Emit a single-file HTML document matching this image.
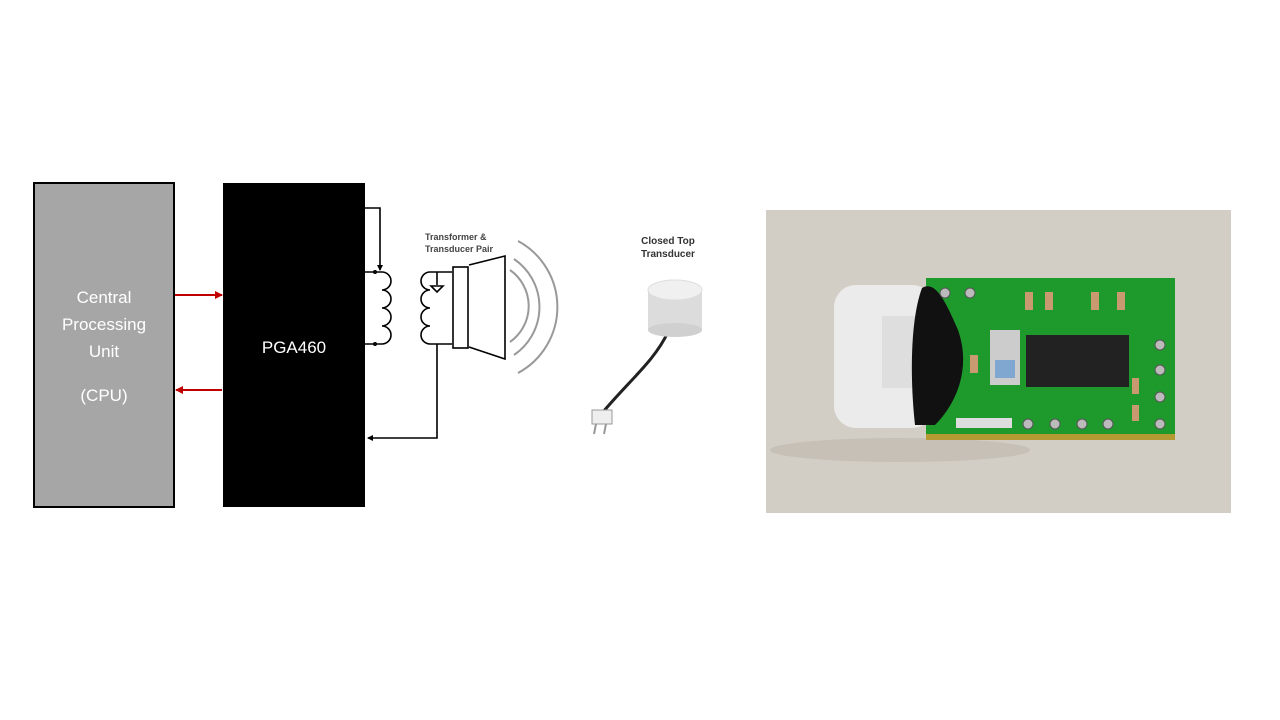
<!DOCTYPE html>
<html><head><style>html,body{margin:0;padding:0;background:#fff;}svg{display:block}</style></head><body>
<svg width="1280" height="720" viewBox="0 0 1280 720" xmlns="http://www.w3.org/2000/svg" font-family="Liberation Sans, sans-serif">
<defs>
<marker id="ra" markerWidth="8" markerHeight="8" refX="7" refY="4" orient="auto" markerUnits="userSpaceOnUse"><path d="M0,0 L8,4 L0,8z" fill="#c00000"/></marker>
<marker id="ba" markerWidth="6" markerHeight="6" refX="5" refY="3" orient="auto" markerUnits="userSpaceOnUse"><path d="M0,0 L6,3 L0,6z" fill="#000"/></marker>
</defs>
<rect x="34" y="183" width="140" height="324" fill="#a6a6a6" stroke="#000" stroke-width="2"/>
<text x="104" y="303" font-size="17" fill="#fff" text-anchor="middle">Central</text>
<text x="104" y="330" font-size="17" fill="#fff" text-anchor="middle">Processing</text>
<text x="104" y="357" font-size="17" fill="#fff" text-anchor="middle">Unit</text>
<text x="104" y="401" font-size="17" fill="#fff" text-anchor="middle">(CPU)</text>
<rect x="223" y="183" width="142" height="324" fill="#000"/>
<text x="294" y="353" font-size="17" fill="#fff" text-anchor="middle">PGA460</text>
<line x1="175" y1="295" x2="222" y2="295" stroke="#c00000" stroke-width="2" marker-end="url(#ra)"/>
<line x1="222" y1="390" x2="176" y2="390" stroke="#c00000" stroke-width="2" marker-end="url(#ra)"/>
<g stroke="#000" stroke-width="1.6" fill="none">
<polyline points="365,208 380,208 380,270" marker-end="url(#ba)"/>
<line x1="365" y1="272" x2="382" y2="272"/>
<line x1="365" y1="344" x2="382" y2="344"/>
<path d="M382,272 a9,9 0 0 1 0,18 a9,9 0 0 1 0,18 a9,9 0 0 1 0,18 a9,9 0 0 1 0,18"/>
<path d="M430,272 a9,9 0 0 0 0,18 a9,9 0 0 0 0,18 a9,9 0 0 0 0,18 a9,9 0 0 0 0,18"/>
<line x1="430" y1="272" x2="452" y2="272"/>
<line x1="430" y1="344" x2="452" y2="344"/>
<line x1="437" y1="272" x2="437" y2="285"/>
<path d="M431,286 L443,286 L437,292z"/>
<polyline points="437,344 437,438 368,438" marker-end="url(#ba)"/>
<rect x="453" y="267" width="15" height="81"/>
<path d="M469,265 L505,256 L505,359 L469,347"/>
</g>
<circle cx="375" cy="272" r="2" fill="#000"/><circle cx="375" cy="344" r="2" fill="#000"/>
<g stroke="#999" stroke-width="2" fill="none">
<path d="M510,270 A44,44 0 0 1 510,342"/>
<path d="M514,259 A58,58 0 0 1 514,355"/>
<path d="M518,241 A75,75 0 0 1 518,373"/>
</g>
<text x="425" y="240" font-size="9" font-weight="bold" fill="#444">Transformer &amp;</text>
<text x="425" y="252" font-size="9" font-weight="bold" fill="#444">Transducer Pair</text>
<text x="668" y="244" font-size="10" font-weight="bold" fill="#333" text-anchor="middle">Closed Top</text>
<text x="668" y="257" font-size="10" font-weight="bold" fill="#333" text-anchor="middle">Transducer</text>
<path d="M668,332 C655,360 630,380 603,412" stroke="#222" stroke-width="3" fill="none"/>
<rect x="648" y="290" width="54" height="40" fill="#dcdcdc"/>
<ellipse cx="675" cy="330" rx="27" ry="7" fill="#d0d0d0"/>
<ellipse cx="675" cy="290" rx="27" ry="10" fill="#f0f0f0" stroke="#ddd"/>
<rect x="592" y="410" width="20" height="14" fill="#eee" stroke="#999"/>
<line x1="596" y1="424" x2="594" y2="434" stroke="#999" stroke-width="2"/>
<line x1="606" y1="424" x2="604" y2="434" stroke="#999" stroke-width="2"/>
<rect x="766" y="210" width="465" height="303" fill="#d3cec5"/>
<ellipse cx="900" cy="450" rx="130" ry="12" fill="#c6c0b6"/>
<rect x="834" y="285" width="100" height="143" rx="22" fill="#ebebeb"/>
<rect x="882" y="316" width="35" height="72" fill="#dedede"/>
<rect x="926" y="278" width="249" height="162" fill="#1e9a2c"/>
<rect x="926" y="434" width="249" height="6" fill="#b49a30"/>
<path d="M922,288 C935,280 945,300 958,330 C972,370 955,405 935,425 L915,425 C910,380 910,320 922,288z" fill="#111"/>
<rect x="1026" y="335" width="103" height="52" fill="#222"/>
<g fill="#ccc"><rect x="990" y="330" width="30" height="55"/></g>
<rect x="995" y="360" width="20" height="18" fill="#7fa7d0"/>
<g fill="#bbb" stroke="#555" stroke-width="1">
<circle cx="945" cy="293" r="5"/><circle cx="970" cy="293" r="5"/>
<circle cx="1028" cy="424" r="5"/><circle cx="1055" cy="424" r="5"/><circle cx="1082" cy="424" r="5"/><circle cx="1108" cy="424" r="5"/><circle cx="1160" cy="424" r="5"/>
<circle cx="1160" cy="345" r="5"/><circle cx="1160" cy="370" r="5"/><circle cx="1160" cy="397" r="5"/>
</g>
<g fill="#c99a70"><rect x="1025" y="292" width="8" height="18"/><rect x="1045" y="292" width="8" height="18"/><rect x="1091" y="292" width="8" height="18"/><rect x="1117" y="292" width="8" height="18"/><rect x="970" y="355" width="8" height="18"/><rect x="1132" y="378" width="7" height="16"/><rect x="1132" y="405" width="7" height="16"/></g>
<g fill="#ddd"><rect x="956" y="418" width="56" height="10"/></g>
</svg>
</body></html>
